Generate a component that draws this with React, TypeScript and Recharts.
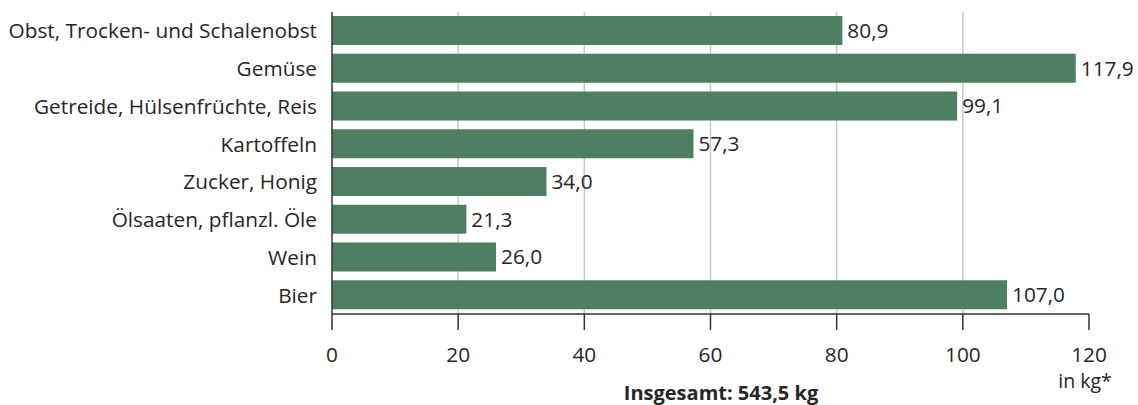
import React from "react";
import { BarChart, Bar, XAxis, YAxis, CartesianGrid, LabelList } from "recharts";

const categories = [
  "Obst, Trocken- und Schalenobst",
  "Gemüse",
  "Getreide, Hülsenfrüchte, Reis",
  "Kartoffeln",
  "Zucker, Honig",
  "Ölsaaten, pflanzl. Öle",
  "Wein",
  "Bier",
];
const values = [80.9, 117.9, 99.1, 57.3, 34.0, 21.3, 26.0, 107.0];
const xTicks = [0, 20, 40, 60, 80, 100, 120];
const gridValues = [20, 40, 60, 80, 100];
const unitLabel = "in kg*";
const totalLabel = "Insgesamt: 543,5 kg";

const data = categories.map((name, i) => ({ name, value: values[i] }));

const FONT = "'Open Sans', 'Noto Sans', sans-serif";
const TEXT = "#262626";
const FS = 20.8;
const fmt = (v: number) => v.toFixed(1).replace(".", ",");

const CatTick = (props: any) => {
  const { x, y, payload } = props;
  return (
    <text x={x} y={y} dy="0.36em" textAnchor="end" fill={TEXT} fontSize={FS} fontFamily={FONT}>
      {payload.value}
    </text>
  );
};

export default function App() {
  return (
    <div style={{ position: "absolute", left: 0, top: 0, width: 1138, height: 405, background: "#fff" }}>
      <BarChart
        width={1138}
        height={405}
        data={data}
        layout="vertical"
        margin={{ top: 12, right: 49, bottom: 51, left: 0 }}
      >
        <CartesianGrid horizontal={false} vertical={true} verticalValues={gridValues} stroke="#c8c8c8" strokeWidth={1.5} />
        <XAxis
          type="number"
          domain={[0, 120]}
          ticks={xTicks}
          interval={0}
          height={40}
          tickSize={16}
          tickMargin={17}
          axisLine={{ stroke: "#333", strokeWidth: 1.5 }}
          tickLine={{ stroke: "#333", strokeWidth: 1.5 }}
          tick={{ fill: TEXT, fontSize: FS, fontFamily: FONT }}
        />
        <YAxis
          type="category"
          dataKey="name"
          width={332}
          tickSize={0}
          tickMargin={15}
          tickLine={false}
          axisLine={{ stroke: "#333", strokeWidth: 1.5 }}
          tick={<CatTick />}
          interval={0}
        />
        <Bar dataKey="value" fill="#4f7f63" barSize={29} isAnimationActive={false}>
          <LabelList
            dataKey="value"
            position="right"
            offset={5}
            formatter={(v: any) => fmt(Number(v))}
            style={{ fill: TEXT, fontSize: FS, fontFamily: FONT }}
          />
        </Bar>
      </BarChart>
      <div
        style={{
          position: "absolute",
          left: 1035,
          width: 100,
          top: 371,
          textAlign: "center",
          fontFamily: FONT,
          fontSize: 19.5,
          color: TEXT,
          lineHeight: "20px",
        }}
      >
        {unitLabel}
      </div>
      <div
        style={{
          position: "absolute",
          left: 521,
          width: 400,
          top: 383,
          textAlign: "center",
          fontFamily: FONT,
          fontSize: 20,
          fontWeight: "bold",
          color: TEXT,
          lineHeight: "20px",
        }}
      >
        {totalLabel}
      </div>
    </div>
  );
}
